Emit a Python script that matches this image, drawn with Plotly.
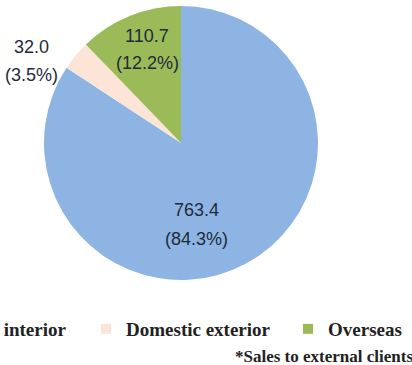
import plotly.graph_objects as go

# ---- data ----
labels = ["Domestic interior", "Domestic exterior", "Overseas"]
values = [763.4, 32.0, 110.7]
colors = ["#8DB4E2", "#FCE4D6", "#9BBB59"]
footnote = "*Sales to external clients"

W, H = 412, 365
# pie geometry in pixels
cx, cy, r = 181, 143, 137
# legend entry text starts (px) and row centre
legend_text_x = [-76, 126, 328]
legend_y = 329
# data-label anchors (px): (x, y of value line, y of percent line)
label_pos = [(196, 210, 239), (32, 47, 75), (147, 36, 63)]

total = sum(values)

fig = go.Figure()
fig.add_trace(go.Pie(
    labels=labels,
    values=values,
    sort=False,
    direction="clockwise",
    rotation=0,
    marker=dict(colors=colors, line=dict(width=0)),
    textinfo="none",
    hoverinfo="label+value+percent",
    domain=dict(x=[(cx - r) / W, (cx + r) / W],
                y=[1 - (cy + r) / H, 1 - (cy - r) / H]),
    showlegend=False,
))

legend_names = ["legend", "legend2", "legend3"]
for lab, col, lg in zip(labels, colors, legend_names):
    fig.add_trace(go.Scatter(
        x=[None], y=[None], mode="markers", name=lab,
        marker=dict(symbol="square", size=10, color=col),
        legend=lg, showlegend=True, hoverinfo="skip",
    ))

label_font = dict(family="Liberation Sans", size=18, color="#1F2A3C")
annotations = []
for v, (px, py1, py2) in zip(values, label_pos):
    for txt, py in ((f"{v:.1f}", py1), (f"({v / total * 100:.1f}%)", py2)):
        annotations.append(dict(
            text=txt, x=px / W, y=1 - py / H, xref="paper", yref="paper",
            xanchor="center", yanchor="middle", showarrow=False, font=label_font,
        ))
annotations.append(dict(
    text="<b>" + footnote + "</b>",
    x=233 / W, xref="paper", xanchor="left",
    y=1 - 356 / H, yref="paper", yanchor="middle",
    showarrow=False,
    font=dict(family="Liberation Serif", size=17, color="#222222"),
))

legend_style = dict(
    orientation="h",
    xanchor="left",
    yanchor="middle",
    y=1 - legend_y / H,
    font=dict(family="Liberation Serif", size=19, color="#222222", weight="bold"),
    bgcolor="rgba(0,0,0,0)",
    itemclick=False, itemdoubleclick=False,
    itemwidth=30,
)

fig.update_layout(
    width=W, height=H,
    margin=dict(l=0, r=0, t=0, b=0, autoexpand=False),
    paper_bgcolor="white",
    plot_bgcolor="white",
    xaxis=dict(visible=False),
    yaxis=dict(visible=False),
    legend=dict(legend_style, x=(legend_text_x[0] - 40) / W),
    legend2=dict(legend_style, x=(legend_text_x[1] - 40) / W),
    legend3=dict(legend_style, x=(legend_text_x[2] - 40) / W),
    annotations=annotations,
)

fig.write_html("out.html")
